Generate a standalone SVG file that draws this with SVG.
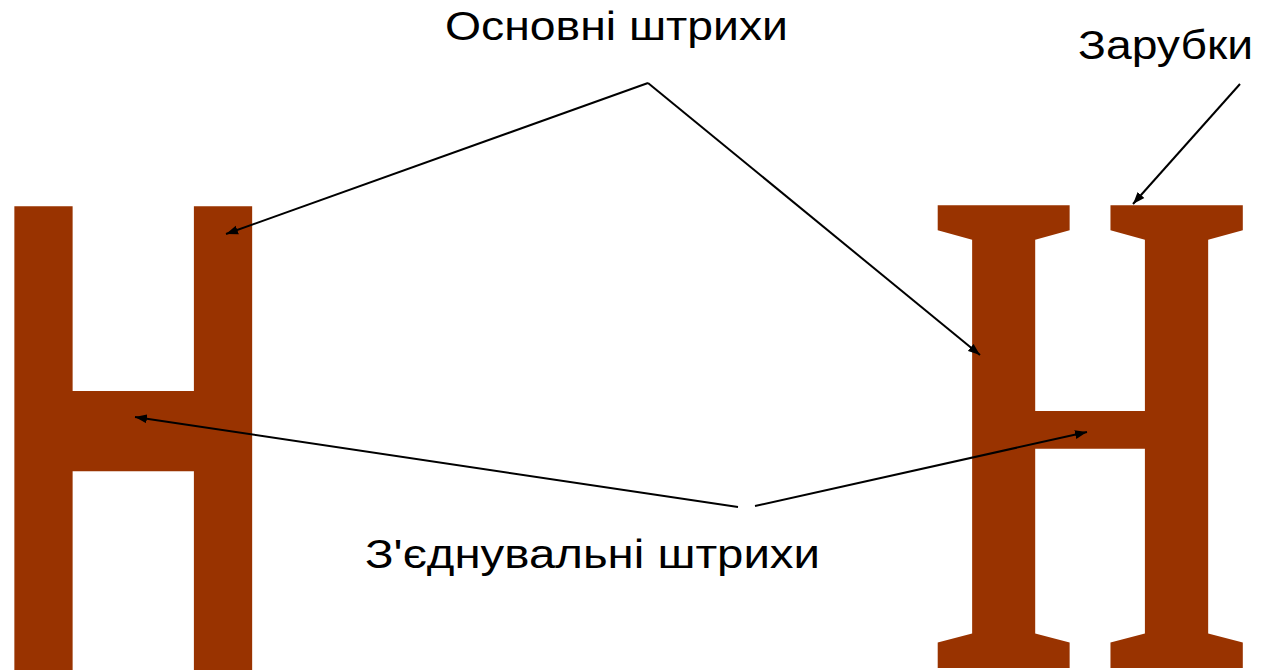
<svg xmlns="http://www.w3.org/2000/svg" width="1263" height="670" viewBox="0 0 1263 670">
<style>
.lbl{font-family:"Liberation Sans",Arial,sans-serif;font-size:40px;fill:#000}
.glyph{fill:#993300;font-weight:bold}
.con{stroke:#000;stroke-width:2;fill:none;marker-end:url(#arr)}
</style>
<defs>
<marker id="arr" markerUnits="userSpaceOnUse" markerWidth="13" markerHeight="10" refX="12" refY="5" orient="auto">
<path d="M0,0.5 L12,5 L0,9.5 z" fill="#000"/>
</marker>
</defs>
<rect width="1263" height="670" fill="#fff"/>
<g id="sans-h">
<text class="glyph" transform="translate(-12.7,670) scale(1,1.666)" font-family="Liberation Sans, Arial, sans-serif" font-size="404.5">H</text>
</g>
<g id="serif-h">
<text class="glyph" transform="translate(930.7,668) scale(1,1.724)" font-family="Liberation Serif, Times New Roman, serif" font-size="410">H</text>
</g>
<g id="label-main">
<text class="lbl" x="445" y="40" textLength="343" lengthAdjust="spacingAndGlyphs">Основні штрихи</text>
</g>
<g id="label-serifs">
<text class="lbl" x="1078" y="59" textLength="175" lengthAdjust="spacingAndGlyphs">Зарубки</text>
</g>
<g id="label-join">
<text class="lbl" x="365" y="568" textLength="455" lengthAdjust="spacingAndGlyphs">З'єднувальні штрихи</text>
</g>
<g id="connectors">
<line class="con" x1="648" y1="83" x2="226" y2="234"/>
<line class="con" x1="648" y1="83" x2="980" y2="355"/>
<line class="con" x1="1240" y1="84" x2="1133" y2="204"/>
<line class="con" x1="738" y1="507" x2="135" y2="417"/>
<line class="con" x1="755" y1="506" x2="1087" y2="432"/>
</g>
</svg>
